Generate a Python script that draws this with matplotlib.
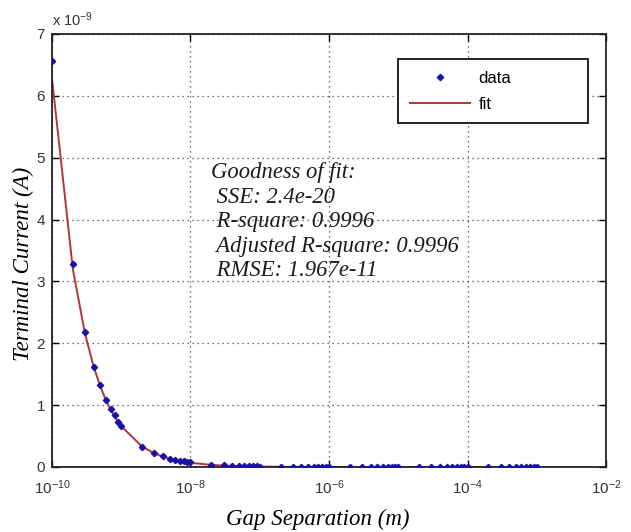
import matplotlib
matplotlib.use('Agg')
import matplotlib.pyplot as plt
from matplotlib.ticker import NullLocator

plt.rcParams['font.family'] = 'Liberation Sans'
plt.rcParams['mathtext.fontset'] = 'custom'
plt.rcParams['mathtext.rm'] = 'Liberation Sans'
plt.rcParams['mathtext.it'] = 'Liberation Sans:italic'

# gap separation (m)
gap = [1e-10, 2e-10, 3e-10, 4e-10, 5e-10, 6e-10, 7e-10, 8e-10, 9e-10,
       1e-9, 2e-9, 3e-9, 4e-9, 5e-9, 6e-9, 7e-9, 8e-9, 9e-9,
       1e-8, 2e-8, 3e-8, 4e-8, 5e-8, 6e-8, 7e-8, 8e-8, 9e-8,
       1e-7, 2e-7, 3e-7, 4e-7, 5e-7, 6e-7, 7e-7, 8e-7, 9e-7,
       1e-6, 2e-6, 3e-6, 4e-6, 5e-6, 6e-6, 7e-6, 8e-6, 9e-6,
       1e-5, 2e-5, 3e-5, 4e-5, 5e-5, 6e-5, 7e-5, 8e-5, 9e-5,
       1e-4, 2e-4, 3e-4, 4e-4, 5e-4, 6e-4, 7e-4, 8e-4, 9e-4,
       1e-3]

# terminal current, units of 1e-9 A
current = [6.56, 3.28, 2.18, 1.62, 1.32, 1.09, 0.93, 0.84, 0.72,
           0.66, 0.32, 0.22, 0.18, 0.13, 0.11, 0.10, 0.09, 0.085,
           0.08, 0.04, 0.035, 0.02, 0.015, 0.012, 0.010, 0.009, 0.008,
           0.007, 0.004, 0.003, 0.002, 0.002, 0.001, 0.001, 0.001, 0.001,
           0.001, 0.0, 0.0, 0.0, 0.0, 0.0, 0.0, 0.0, 0.0,
           0.0, 0.0, 0.0, 0.0, 0.0, 0.0, 0.0, 0.0, 0.0,
           0.0, 0.0, 0.0, 0.0, 0.0, 0.0, 0.0, 0.0, 0.0,
           0.0]

fit = [6.28, 3.20, 2.15, 1.62, 1.30, 1.08, 0.93, 0.82, 0.73,
       0.66, 0.33, 0.22, 0.17, 0.135, 0.112, 0.096, 0.084, 0.075,
       0.068, 0.034, 0.023, 0.017, 0.014, 0.011, 0.010, 0.009, 0.008,
       0.007, 0.003, 0.002, 0.002, 0.001, 0.001, 0.001, 0.001, 0.001,
       0.001, 0.0, 0.0, 0.0, 0.0, 0.0, 0.0, 0.0, 0.0,
       0.0, 0.0, 0.0, 0.0, 0.0, 0.0, 0.0, 0.0, 0.0,
       0.0, 0.0, 0.0, 0.0, 0.0, 0.0, 0.0, 0.0, 0.0,
       0.0]

x_ticks = [1e-10, 1e-8, 1e-6, 1e-4, 1e-2]
x_labels = ['$10^{-10}$', '$10^{-8}$', '$10^{-6}$', '$10^{-4}$', '$10^{-2}$']
y_ticks = [0, 1, 2, 3, 4, 5, 6, 7]

stats = ['Goodness of fit:', ' SSE: 2.4e-20', ' R-square: 0.9996',
         ' Adjusted R-square: 0.9996', ' RMSE: 1.967e-11']

fig = plt.figure(figsize=(6.31, 5.32), dpi=100)
ax = fig.add_axes([0.0824, 0.1222, 0.8780, 0.8139])

ax.plot(gap, current, 'D', color='#1a10a8', markersize=3.2, label='data', zorder=3)
ax.plot(gap, fit, '-', color='#b3343c', linewidth=1.4, label='fit', zorder=2)

ax.set_xscale('log')
ax.set_xlim(1e-10, 1e-2)
ax.set_ylim(0, 7)
ax.set_xticks(x_ticks)
ax.set_xticklabels(x_labels)
ax.set_yticks(y_ticks)
ax.xaxis.set_minor_locator(NullLocator())
ax.tick_params(direction='in', top=True, right=True, length=5, width=1,
               labelsize=11, labelcolor='#333333', pad=5)
ax.tick_params(axis='x', pad=8)
ax.grid(True, color='#444444', linestyle=(0, (1, 3)), linewidth=0.9)
for sp in ax.spines.values():
    sp.set_linewidth(1.3)
    sp.set_color('#222222')

ax.text(0.0, 1.012, 'x $10^{-9}$', transform=ax.transAxes, fontsize=10.5,
        color='#333333', ha='left', va='bottom')

ax.set_xlabel('Gap Separation (m)', family='Liberation Serif', style='italic',
              fontsize=16.5, va='center')
ax.xaxis.set_label_coords(0.48, -0.122)
ax.set_ylabel('Terminal Current (A)', family='Liberation Serif', style='italic',
              fontsize=16.5, va='center')
ax.yaxis.set_label_coords(-0.052, 0.469)

for i, line in enumerate(stats):
    ax.text(2.0e-8, 4.76 - i * 0.396, line, family='Liberation Serif',
            style='italic', fontsize=16.3, color='#1a1a1a', va='center', ha='left')

leg = ax.legend(loc='upper left', bbox_to_anchor=(0.625, 0.797, 0.3425, 0.145),
                mode='expand', fancybox=False, edgecolor='#111111', framealpha=1,
                fontsize=12, handlelength=3.6, handletextpad=0.5,
                labelspacing=0.66, borderpad=0.7, borderaxespad=0)
leg.get_frame().set_linewidth(1.3)

fig.savefig('out.png', dpi=100)
